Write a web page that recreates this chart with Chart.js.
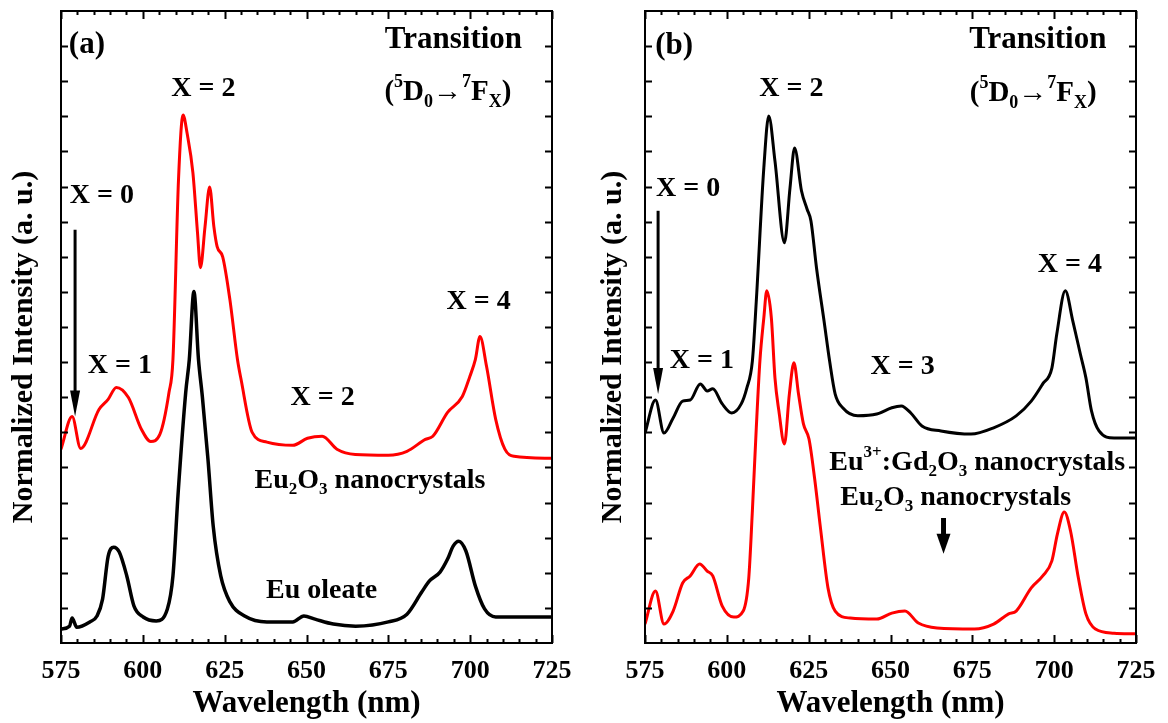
<!DOCTYPE html>
<html>
<head>
<meta charset="utf-8">
<script src="https://cdn.jsdelivr.net/npm/chart.js@4/dist/chart.umd.min.js"></script>
<style>
  html,body{margin:0;padding:0;background:#fff;}
  #wrap{position:relative;width:1168px;height:723px;}
  canvas{position:absolute;top:0;}
</style>
</head>
<body>
<div id="wrap">
  <canvas id="panel-a" width="584" height="723" style="left:0"></canvas>
  <canvas id="panel-b" width="584" height="723" style="left:584px"></canvas>
</div>
<script>
// x axis: wavelength (nm), minor ticks every 5, labels every 25
const X_TICKS = [575,580,585,590,595,600,605,610,615,620,625,630,635,640,645,650,655,660,665,670,675,680,685,690,695,700,705,710,715,720,725];
const X_LABELS = [575,600,625,650,675,700,725];
const Y_TICKS = [1,2,3,4,5,6,7,8,9,10,11,12,13,14,15,16,17];

// panel (a) - Eu2O3 nanocrystals (red)
const aRedNm  = [575,578.4,581,586.6,589.4,591.9,595.6,599.6,602.4,605.2,608,609.2,610.9,612.3,613.5,615.3,616.7,617.6,619,620.4,621.7,622.7,624.4,626.6,628.9,630,633.4,637.9,645.8,650.3,654.8,659.3,664.9,675,680.7,686.3,688.6,693.1,697.6,699.9,701.6,703,705,707.8,710.6,713.4,725];
const aRedVal = [5.52,6.45,5.54,6.65,6.94,7.28,6.99,6.08,5.74,5.94,7.14,8.08,13.2,15.04,14.53,13.39,11.69,10.69,11.86,12.99,11.86,11.29,11.0,9.78,8.08,7.51,6.0,5.72,5.63,5.83,5.89,5.52,5.37,5.35,5.46,5.8,5.89,6.57,7.02,7.59,8.08,8.73,7.88,6.37,5.52,5.32,5.26];
// panel (a) - Eu oleate (black)
const aBlkNm  = [575,577.6,578.4,579.8,583.8,586,587.7,589.4,591.1,592.8,595.1,597.3,600.1,604.1,607.5,609.2,610.8,613.1,614.2,615.6,617,618.2,619.9,621.5,623.8,626.6,631.1,637.9,645.8,649.2,652.6,658.2,665,675,680.7,685.2,687.5,690.8,693.1,694.8,696.5,698.7,701.6,704.4,707.8,714.5,725];
const aBlkVal = [0.4,0.48,0.71,0.45,0.6,0.77,1.25,2.47,2.73,2.59,1.91,1.05,0.74,0.63,0.97,1.91,4.29,7.14,8.08,10.01,8.08,7.0,5.23,3.33,1.91,1.17,0.77,0.6,0.6,0.77,0.68,0.54,0.48,0.6,0.82,1.45,1.76,2.02,2.39,2.76,2.9,2.62,1.62,0.97,0.74,0.74,0.74];

// panel (b) - Eu3+:Gd2O3 nanocrystals (black)
const bBlkNm  = [575,578.2,580.8,583.6,586.5,588.8,591.9,594,595.7,598.6,601.5,604.4,606.1,607.8,609,611.3,612.8,614.7,617.6,619.3,620.7,622.8,624.5,625.7,627.4,629.7,631.4,633.1,635.4,640,645.8,650.4,653.3,656.2,659.6,665.4,674.6,681.5,688.4,693,696.5,699.3,700.8,703.4,705.7,708,709.7,711.4,713.7,718.3,725];
const bBlkVal = [5.98,6.92,5.98,6.41,6.89,6.92,7.38,7.18,7.24,6.81,6.55,6.81,7.26,8.03,9.74,13.53,15.01,13.73,11.4,12.96,14.1,12.88,12.36,12.02,10.68,9.17,8.03,7.09,6.7,6.47,6.52,6.7,6.75,6.55,6.18,6.04,5.95,6.13,6.47,6.89,7.38,7.83,8.8,10.03,9.17,8.23,7.55,6.61,6.04,5.84,5.84];
// panel (b) - Eu2O3 nanocrystals (red)
const bRedNm  = [575,578.2,580.8,583.6,586.5,588.8,591.7,594,595.7,598.6,602.1,605,606.7,607.8,609,610.1,611.3,612.2,613.6,614.7,615.9,617.6,619.1,620.5,621.9,623.4,625.1,626.8,628.6,630.9,633.1,637.7,645.8,650.4,654.4,658.5,664.2,675.7,681.5,686.1,688.4,693,696.5,699.3,701,703.1,705,707.4,709.7,712.6,718.3,725];
const bRedVal = [0.54,1.48,0.54,0.91,1.71,1.91,2.25,2.05,1.91,1.05,0.74,0.91,1.85,3.76,6.13,8.03,9.26,10.03,9.26,7.55,6.61,5.67,7.09,7.98,7.09,6.24,5.81,4.7,3.28,1.57,0.91,0.71,0.68,0.85,0.91,0.57,0.43,0.4,0.54,0.83,0.91,1.57,1.91,2.34,3.11,3.73,3.19,1.85,0.83,0.4,0.28,0.26];

const SERIF = "'Liberation Serif', 'Times New Roman', serif";
const RED = "#ff0000";
const Y_TITLE = "Normalized Intensity (a. u.)";

const TRANSITION = [["(",""],["5","sup"],["D",""],["0","sub"],["\u2192",""],["7","sup"],["F",""],["X","sub"],[")",""]];
const EU2O3 = [["Eu",""],["2","sub"],["O",""],["3","sub"],[" nanocrystals",""]];

// text notes: [parts, nm, value, size, align]
const notesA = [
  [[["(a)",""]],577.4,17.03,31,"left"],
  [[["Transition",""]],694.9,17.17,31,"center"],
  [TRANSITION,693.2,15.67,29,"center"],
  [[["X = 2",""]],618.5,15.78,28,"center"],
  [[["X = 0",""]],587.5,12.74,28,"center"],
  [[["X = 1",""]],593,7.9,28,"center"],
  [[["X = 4",""]],702.6,9.72,28,"center"],
  [[["X = 2",""]],654.9,6.99,28,"center"],
  [EU2O3,669.4,4.61,28,"center"],
  [[["Eu oleate",""]],654.6,1.48,28,"center"],
];
const notesB = [
  [[["(b)",""]],578.1,17.01,31,"left"],
  [[["Transition",""]],695,17.18,31,"center"],
  [TRANSITION,693.6,15.64,29,"center"],
  [[["X = 2",""]],619.7,15.78,28,"center"],
  [[["X = 0",""]],588.2,12.93,28,"center"],
  [[["X = 1",""]],592.4,8.03,28,"center"],
  [[["X = 3",""]],653.7,7.86,28,"center"],
  [[["X = 4",""]],704.8,10.77,28,"center"],
  [[["Eu",""],["3+","sup"],[":Gd",""],["2","sub"],["O",""],["3","sub"],[" nanocrystals",""]],676.5,5.13,28,"center"],
  [EU2O3,669.9,4.13,28,"center"],
];
// arrows: [nm, fromValue, toValue, lineWidth, headLen, headHalfWidth]
const arrowsA = [[579.3,11.77,6.45,3,26,5]];
const arrowsB = [[579,12.31,7.09,3,26,5],[666.2,3.56,2.54,5,20,7]];

function drawRich(ctx, parts, x, y, size, align) {
  const fontFor = k => `bold ${k ? Math.round(size*0.62) : size}px ${SERIF}`;
  let total = 0;
  parts.forEach(([t,k]) => { ctx.font = fontFor(k); total += ctx.measureText(t).width; });
  let cx = align==="left" ? x : align==="right" ? x-total : x-total/2;
  ctx.textAlign = "left"; ctx.textBaseline = "middle"; ctx.fillStyle = "#000";
  parts.forEach(([t,k]) => {
    ctx.font = fontFor(k);
    const dy = k==="sub" ? size*0.32 : k==="sup" ? -size*0.36 : 0;
    ctx.fillText(t, cx, y+dy);
    cx += ctx.measureText(t).width;
  });
}

function framePlugin(notes, arrows, titleX) {
  return {
    id:"frame",
    afterDraw(chart) {
      const {ctx, chartArea:a, scales:{x,y}} = chart;
      ctx.save();
      ctx.strokeStyle = "#000"; ctx.lineWidth = 2;
      ctx.strokeRect(a.left, a.top, a.right-a.left, a.bottom-a.top);
      ctx.beginPath();
      X_TICKS.forEach(v => {
        const px = Math.round(x.getPixelForValue(v))+0.5;
        const len = X_LABELS.includes(v) ? 8 : 4;
        ctx.moveTo(px, a.bottom); ctx.lineTo(px, a.bottom-len);
        ctx.moveTo(px, a.top); ctx.lineTo(px, a.top+len);
      });
      Y_TICKS.forEach(v => {
        const py = Math.round(y.getPixelForValue(v))+0.5;
        ctx.moveTo(a.left, py); ctx.lineTo(a.left+7, py);
        ctx.moveTo(a.right, py); ctx.lineTo(a.right-7, py);
      });
      ctx.stroke();
      // y axis title, set a little below the middle as in the figure
      ctx.save();
      ctx.translate(titleX, 347);
      ctx.rotate(-Math.PI/2);
      ctx.font = `bold 30px ${SERIF}`;
      ctx.textAlign = "center"; ctx.textBaseline = "middle"; ctx.fillStyle = "#000";
      ctx.fillText(Y_TITLE, 0, 0);
      ctx.restore();
      notes.forEach(([parts,nm,val,size,align]) =>
        drawRich(ctx, parts, x.getPixelForValue(nm), y.getPixelForValue(val), size, align));
      arrows.forEach(([nm,v0,v1,lw,hl,hw]) => {
        const px = x.getPixelForValue(nm), y0 = y.getPixelForValue(v0), y1 = y.getPixelForValue(v1);
        ctx.lineWidth = lw;
        ctx.beginPath(); ctx.moveTo(px,y0); ctx.lineTo(px,y1-hl+2); ctx.stroke();
        ctx.beginPath(); ctx.moveTo(px,y1); ctx.lineTo(px-hw,y1-hl); ctx.lineTo(px+hw,y1-hl); ctx.closePath();
        ctx.fillStyle = "#000"; ctx.fill();
      });
      ctx.restore();
    }
  };
}

function series(nm, val, color, width) {
  return {data:nm.map((v,i)=>({x:v,y:val[i]})), borderColor:color, borderWidth:width,
          pointRadius:0, fill:false, cubicInterpolationMode:"monotone"};
}

function buildPanel(id, datasets, notes, arrows, titleX) {
  const tickFont = {family:SERIF, size:26, weight:"bold"};
  const titleFont = {family:SERIF, size:31, weight:"bold"};
  return new Chart(document.getElementById(id), {
    type:"line",
    data:{datasets},
    options:{
      responsive:false, animation:false, events:[],
      layout:{padding:{top:11,right:32,left:0,bottom:0}},
      plugins:{legend:{display:false},tooltip:{enabled:false}},
      scales:{
        x:{type:"linear",min:575,max:725,
           afterBuildTicks:s=>{s.ticks=X_TICKS.map(v=>({value:v}));},
           ticks:{autoSkip:false,maxRotation:0,color:"#000",font:tickFont,padding:5,
                  callback:v=>X_LABELS.includes(v)?String(v):""},
           grid:{display:false},border:{display:false},
           title:{display:true,text:"Wavelength (nm)",color:"#000",font:titleFont,padding:{top:0,bottom:0}},
           afterFit:s=>{s.height=80;}},
        y:{min:0,max:18,
           ticks:{display:false},grid:{display:false},border:{display:false},
           title:{display:false},
           afterFit:s=>{s.width=61;}}
      }
    },
    plugins:[framePlugin(notes, arrows, titleX)]
  });
}

buildPanel("panel-a", [series(aRedNm,aRedVal,RED,3), series(aBlkNm,aBlkVal,"#000",3.5)], notesA, arrowsA, 24);
buildPanel("panel-b", [series(bBlkNm,bBlkVal,"#000",3), series(bRedNm,bRedVal,RED,3)], notesB, arrowsB, 29);
</script>
</body>
</html>
